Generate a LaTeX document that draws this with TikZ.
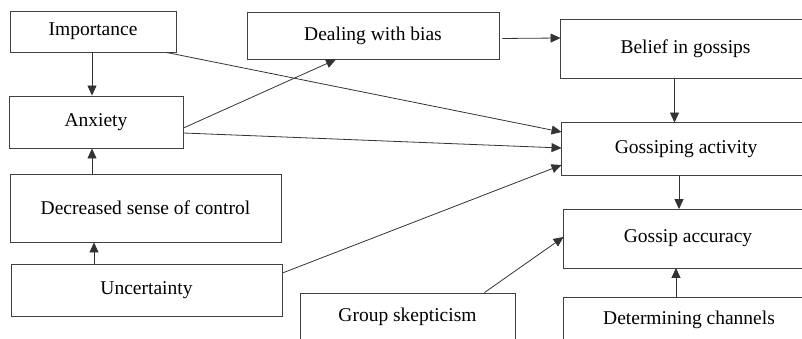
\documentclass[tikz,border=0pt]{standalone}
\usepackage{fontspec}
\setmainfont{Liberation Serif}
\usetikzlibrary{arrows.meta}

\begin{document}
\begin{tikzpicture}[x=1pt, y=-1pt,
  frame/.style={draw=black!75, line width=0.9pt},
  box/.style={frame, fill=white, inner sep=2pt, font=\fontsize{19.5}{22}\selectfont},
  openbox/.style={box, draw=none, fill=none},
  link/.style={draw=black!80, line width=0.8pt, -{Triangle[length=10pt,width=9pt]}}]
  \useasboundingbox (0,0) rectangle (802,339);
  \clip (0,0) rectangle (802,339);

  \node[box, minimum width=166pt, minimum height=41pt] (imp)  at (93, 31.5)   {Importance};
  \node[box, minimum width=174pt, minimum height=52pt] (anx)  at (96, 122)    {Anxiety};
  \node[box, minimum width=271pt, minimum height=68pt] (dsc)  at (145.5, 208) {Decreased sense of control};
  \node[box, minimum width=271pt, minimum height=52pt] (unc)  at (146.5, 290) {Uncertainty};
  \node[box, minimum width=252pt, minimum height=47pt] (bias) at (373, 35.5)  {Dealing with bias};
  \node[box, minimum width=215pt, minimum height=48pt] (skep) at (407.5, 317) {Group skepticism};
  \node[openbox, minimum width=249pt, minimum height=58pt] (bel)  at (685.5, 49)  {Belief in gossips};
  \node[openbox, minimum width=248pt, minimum height=52pt] (act)  at (686, 149)   {Gossiping activity};
  \node[openbox, minimum width=248pt, minimum height=58pt] (acc)  at (688, 238.5) {Gossip accuracy};
  \node[openbox, minimum width=250pt, minimum height=44pt] (chan) at (689, 320)   {Determining channels};
  \foreach \n in {bel, act, acc, chan}
    \draw[frame] (\n.north west) rectangle (\n.south -| 840,0);

  \draw[link] (imp.south -| 92,0) -- (anx.north -| 92,0);
  \draw[link] (dsc.north -| 92,0) -- (anx.south -| 92,0);
  \draw[link] (unc.north -| 94,0) -- (dsc.south -| 94,0);
  \draw[link] ([xshift=-10pt]imp.south east) -- ([yshift=17pt]act.west);
  \draw[link] ([yshift=-6pt]anx.east) -- ([xshift=-37pt]bias.south);
  \draw[link] ([yshift=-11pt]anx.east) -- ([yshift=1pt]act.west);
  \draw[link] ([yshift=17pt]unc.east) -- ([yshift=-16pt]act.west);
  \draw[link, shorten <=3pt] ([yshift=-3pt]bias.east) -- ([yshift=11pt]bel.west);
  \draw[link] ([xshift=-11pt]bel.south) -- ([xshift=-11pt]bel.south |- act.north);
  \draw[link] ([xshift=-7pt]act.south) -- ([xshift=-7pt]act.south |- acc.north);
  \draw[link] ([xshift=-13pt]chan.north) -- ([xshift=-13pt]chan.north |- acc.south);
  \draw[link] ([xshift=-31pt]skep.north east) -- ([yshift=1.5pt]acc.west);
\end{tikzpicture}
\end{document}
